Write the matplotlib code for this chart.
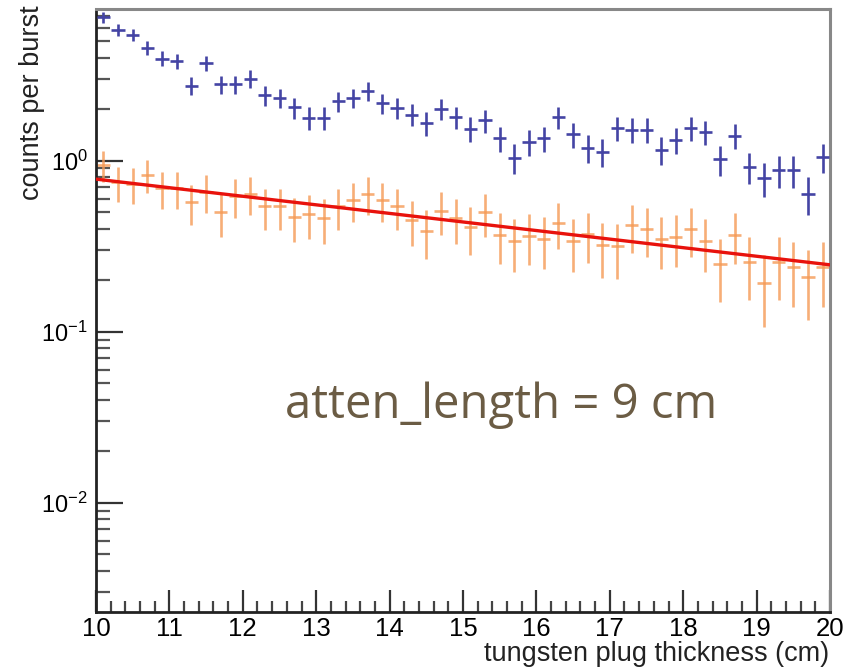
import numpy as np
import matplotlib
matplotlib.use('Agg')
import matplotlib.pyplot as plt
from matplotlib.ticker import LogLocator, MultipleLocator, NullFormatter

# bin centres (cm), 0.2 cm bins
x_centres = [10.1 + 0.2 * i for i in range(50)]

# counts per burst
blue_counts = [6.88, 5.82, 5.44, 4.58, 3.95, 3.82, 2.75, 3.71, 2.79, 2.79,
               3.02, 2.41, 2.33, 2.05, 1.78, 1.78, 2.22, 2.33, 2.55, 2.16,
               2.03, 1.86, 1.66, 2.01, 1.80, 1.54, 1.72, 1.35, 1.04, 1.29,
               1.35, 1.80, 1.43, 1.19, 1.13, 1.55, 1.52, 1.52, 1.16, 1.32,
               1.56, 1.47, 1.02, 1.40, 0.92, 0.79, 0.88, 0.88, 0.64, 1.05]

orange_counts = [0.94, 0.75, 0.73, 0.83, 0.69, 0.69, 0.57, 0.66, 0.50, 0.62,
                 0.64, 0.54, 0.54, 0.47, 0.49, 0.46, 0.54, 0.59, 0.64, 0.59,
                 0.54, 0.45, 0.39, 0.51, 0.46, 0.41, 0.50, 0.37, 0.34, 0.365,
                 0.35, 0.435, 0.34, 0.375, 0.32, 0.316, 0.42, 0.40, 0.35, 0.36,
                 0.40, 0.34, 0.25, 0.37, 0.255, 0.194, 0.255, 0.238, 0.208, 0.238]

# poisson errors: counts per burst = N / n_bursts
n_bursts = 25.0
blue_err = np.sqrt(np.array(blue_counts) / n_bursts)
orange_err = np.sqrt(np.array(orange_counts) / n_bursts)

# exponential fit
fit_amp = 0.78       # value at 10 cm
fit_length = 8.67    # attenuation length (cm)

plt.rcParams['font.family'] = ['Liberation Sans', 'DejaVu Sans']
plt.rcParams['mathtext.fontset'] = 'custom'
plt.rcParams['mathtext.rm'] = 'Liberation Sans'
plt.rcParams['axes.unicode_minus'] = False

fig = plt.figure(figsize=(8.48, 6.68), dpi=100)
ax = fig.add_axes([96/848, 1 - 611.7/668, (830 - 96)/848, (611.7 - 9)/668])

ax.errorbar(x_centres, orange_counts, yerr=orange_err, xerr=0.09, fmt='none',
            ecolor='#f59a55', elinewidth=1.9, alpha=0.8, zorder=2)
xf = np.linspace(10, 20, 200)
ax.plot(xf, fit_amp * np.exp(-(xf - 10) / fit_length), color='#e8120c',
        lw=2.4, zorder=3)
ax.errorbar(x_centres, blue_counts, yerr=blue_err, xerr=0.09, fmt='none',
            ecolor='#4444a4', elinewidth=1.9, zorder=4)

ax.set_yscale('log')
ax.set_xlim(10, 20)
ax.set_ylim(0.00231, 7.7)

ax.xaxis.set_major_locator(MultipleLocator(1))
ax.xaxis.set_minor_locator(MultipleLocator(0.2))
ax.yaxis.set_major_locator(LogLocator(base=10))
ax.yaxis.set_minor_locator(LogLocator(base=10, subs=np.arange(2, 10)))
ax.yaxis.set_minor_formatter(NullFormatter())

ax.tick_params(axis='x', which='major', direction='in', length=15.8, width=1.6,
               color='#333333', labelsize=18.5, pad=4, top=False)
ax.tick_params(axis='x', which='minor', direction='in', length=8, width=1.6,
               color='#444444', top=False)
ax.tick_params(axis='y', which='major', direction='in', length=19.4, width=1.6,
               color='#333333', labelsize=17, pad=6, right=False)
ax.tick_params(axis='y', which='minor', direction='in', length=10, width=1.6,
               color='#555555', right=False)

for side in ['left', 'bottom']:
    ax.spines[side].set_color('#222222')
    ax.spines[side].set_linewidth(2.0)
for side in ['top', 'right']:
    ax.spines[side].set_color('#888888')
    ax.spines[side].set_linewidth(2.2)

fig.text(829/848, 1 - 667/668, 'tungsten plug thickness (cm)', ha='right',
         va='bottom', fontsize=19.5, color='#222222')
fig.text(19/848, 1 - 5/668, 'counts per burst', rotation=90, ha='left',
         va='top', fontsize=19.5, color='#222222')

fig.text(285/848, 1 - 418/668, 'atten_length = 9 cm', family='Open Sans',
         fontsize=34, color='#6b5c44', va='baseline', ha='left')

fig.savefig('out.png', dpi=100)
